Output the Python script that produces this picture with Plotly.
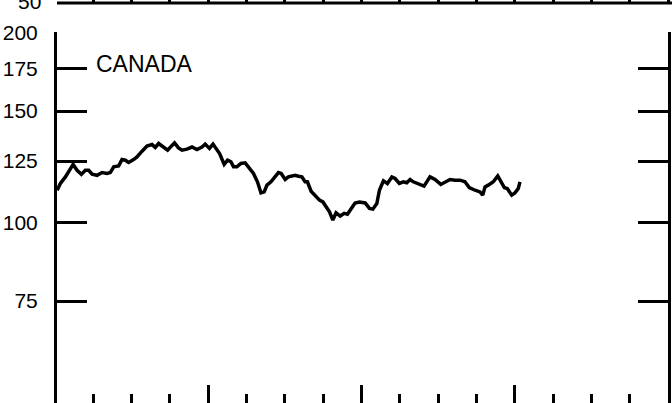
import math
import plotly.graph_objects as go

# ---- data ----
years = [0.014,0.035,0.068,0.089,0.118,0.144,0.172,0.198,0.220,0.242,
         0.274,0.307,0.340,0.361,0.383,0.415,0.437,0.459,0.480,0.513,
         0.535,0.568,0.600,0.633,0.654,0.676,0.709,0.735,0.759,0.780,
         0.806,0.829,0.861,0.894,0.926,0.959,0.980,1.008,1.031,1.052,
         1.074,1.104,1.126,1.148,1.165,1.187,1.213,1.241,1.269,1.295,
         1.321,1.344,1.365,1.383,1.409,1.437,1.458,1.476,1.502,1.523,
         1.546,1.567,1.589,1.611,1.632,1.647,1.671,1.698,1.726,1.748,
         1.769,1.791,1.813,1.834,1.861,1.887,1.908,1.937,1.958,1.986,
         2.024,2.052,2.074,2.100,2.117,2.143,2.169,2.198,2.219,2.247,
         2.273,2.295,2.317,2.338,2.371,2.408,2.447,2.480,2.517,2.556,
         2.578,2.610,2.643,2.675,2.703,2.741,2.773,2.791,2.806,2.827,
         2.860,2.889,2.915,2.932,2.951,2.980,3.001,3.023,3.034]

canada = [112.4,115.2,118.0,120.2,123.5,120.9,119.1,120.9,120.9,119.2,
          118.7,119.9,119.5,119.9,122.4,122.8,125.7,125.4,124.4,125.7,
          126.9,129.6,132.1,132.8,131.4,133.3,131.2,130.1,132.0,133.6,
          131.2,130.1,130.6,131.6,130.4,131.6,133.0,130.9,133.0,130.9,
          128.5,123.5,125.4,124.7,122.4,122.4,123.9,124.2,121.7,119.5,
          115.9,111.3,111.7,114.5,115.9,118.0,119.9,119.5,116.9,118.0,
          118.4,118.7,118.3,118.0,115.9,115.9,112.0,110.4,108.4,107.7,
          105.6,103.9,100.8,103.5,102.3,103.3,103.0,105.2,107.3,107.7,
          107.3,105.2,104.9,107.1,112.4,116.3,115.2,118.0,117.3,115.2,
          115.9,115.5,116.9,115.9,115.2,114.1,118.0,116.9,114.8,115.9,
          116.9,116.6,116.6,115.9,113.5,112.4,111.7,110.4,113.8,114.5,
          115.9,118.4,115.2,113.5,113.1,110.4,111.3,113.1,115.9]

y_tick_vals = [75, 100, 125, 150, 175, 200]
y_tick_text = ["75", "100", "125", "150", "175", "200"]
panel_label = "CANADA"
prev_panel_label = "50"

FONT = "Liberation Sans, Arial, Helvetica, sans-serif"
X_RANGE = [0.013, 4.0]
Y_RANGE = [1.7136, 2.3015]

fig = go.Figure()
fig.add_trace(go.Scatter(x=years, y=canada, mode="lines",
                         line=dict(color="black", width=3.5),
                         hoverinfo="skip", showlegend=False))
# helper invisible traces so the extra axes are drawn
fig.add_trace(go.Scatter(x=[None], y=[None], xaxis="x2", yaxis="y",
                         showlegend=False, hoverinfo="skip"))
fig.add_trace(go.Scatter(x=[None], y=[None], xaxis="x", yaxis="y2",
                         showlegend=False, hoverinfo="skip"))

fig.update_layout(
    width=672, height=403,
    margin=dict(l=57, r=4, t=0, b=0, pad=0, autoexpand=False),
    paper_bgcolor="white", plot_bgcolor="white",
    showlegend=False,
    xaxis=dict(range=X_RANGE, showgrid=False, zeroline=False, showline=False,
               automargin=False,
               ticks="inside", tick0=0, dtick=1, ticklen=18, tickwidth=3,
               tickcolor="black", showticklabels=False,
               minor=dict(ticks="inside", tick0=0, dtick=0.25, ticklen=9,
                          tickwidth=3, tickcolor="black", showgrid=False)),
    xaxis2=dict(range=X_RANGE, overlaying="x", anchor="free", position=0.99256,
                side="top", showgrid=False, zeroline=False, showline=False,
                automargin=False,
                ticks="outside", tick0=0, dtick=0.25, ticklen=8, tickwidth=3,
                tickcolor="black", showticklabels=False),
    yaxis=dict(type="log", domain=[0, 0.9206], range=Y_RANGE,
               tickvals=y_tick_vals, ticktext=y_tick_text,
               ticks="inside", ticklen=30, tickwidth=3, tickcolor="black",
               showline=True, linewidth=3, linecolor="black", mirror="ticks",
               showgrid=False, zeroline=False, ticklabelstandoff=12,
               automargin=False,
               tickfont=dict(family=FONT, size=21, color="black")),
    yaxis2=dict(type="log", overlaying="y", anchor="x", side="left",
                range=Y_RANGE, tickvals=[200], ticks="inside", ticklen=40,
                tickwidth=3, tickcolor="black", mirror="ticks",
                showline=False, showgrid=False, zeroline=False,
                automargin=False, showticklabels=False),
)

# bottom edge of the panel above (cut off by the crop)
fig.add_shape(type="line", xref="paper", yref="paper",
              x0=0, x1=1.0065, y0=0.99256, y1=0.99256,
              line=dict(color="black", width=3))

fig.add_annotation(x=0.257, y=math.log10(178.3), xref="x", yref="y",
                   text=panel_label, showarrow=False, xanchor="left",
                   yanchor="middle",
                   font=dict(family=FONT, size=23, color="black"))
fig.add_annotation(x=-0.0229, y=0.9975, xref="paper", yref="paper",
                   text=prev_panel_label, showarrow=False, xanchor="right",
                   yanchor="middle",
                   font=dict(family=FONT, size=21, color="black"))

fig.write_html("out.html",
               config={"displayModeBar": False, "staticPlot": True},
               post_script="document.body.style.margin='0px';"
                           "document.body.style.padding='0px';")
